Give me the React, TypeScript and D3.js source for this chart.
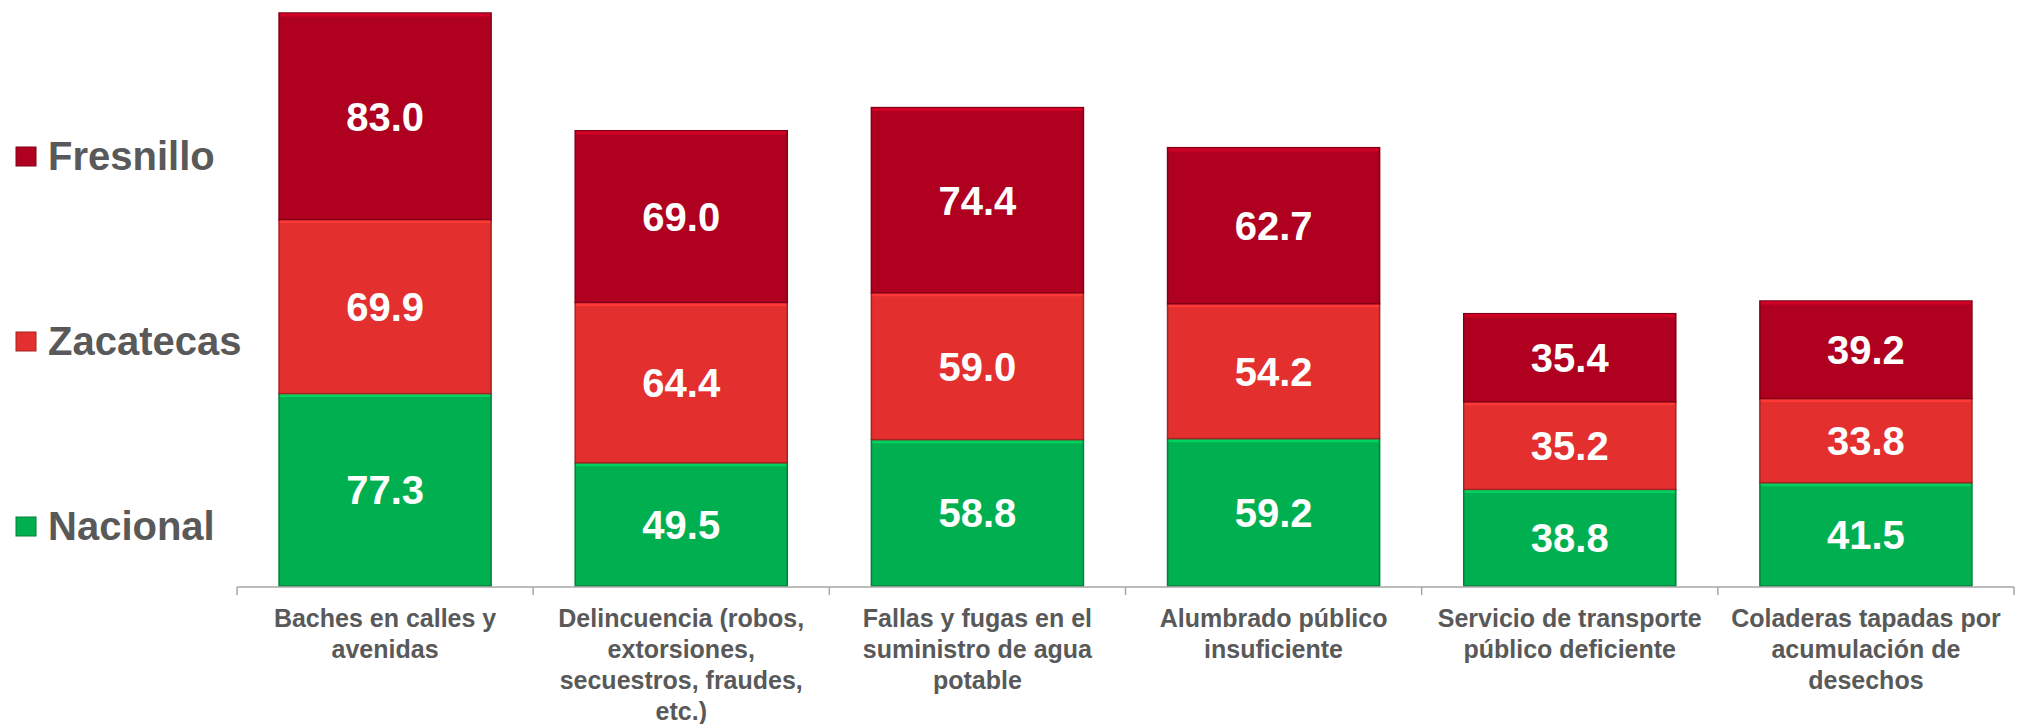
import React from 'react';
import * as d3 from 'd3';

const categories = [
  'Baches en calles y avenidas',
  'Delincuencia (robos, extorsiones, secuestros, fraudes, etc.)',
  'Fallas y fugas en el suministro de agua potable',
  'Alumbrado público insuficiente',
  'Servicio de transporte público deficiente',
  'Coladeras tapadas por acumulación de desechos',
];
const labelLines = [
  ['Baches en calles y', 'avenidas'],
  ['Delincuencia (robos,', 'extorsiones,', 'secuestros, fraudes,', 'etc.)'],
  ['Fallas y fugas en el', 'suministro de agua', 'potable'],
  ['Alumbrado público', 'insuficiente'],
  ['Servicio de transporte', 'público deficiente'],
  ['Coladeras tapadas por', 'acumulación de', 'desechos'],
];
const series = ['Nacional', 'Zacatecas', 'Fresnillo'];
const nacional = [77.3, 49.5, 58.8, 59.2, 38.8, 41.5];
const zacatecas = [69.9, 64.4, 59.0, 54.2, 35.2, 33.8];
const fresnillo = [83.0, 69.0, 74.4, 62.7, 35.4, 39.2];

const colors: Record<string, string> = { Nacional: '#00b050', Zacatecas: '#e3302f', Fresnillo: '#b00020' };
const fontFam = '"Liberation Sans", Arial, sans-serif';

const W = 2018, H = 724;
const baseY = 586, topY = 13;

export default function App() {
  const rows = categories.map((c, i) => ({ cat: c, Nacional: nacional[i], Zacatecas: zacatecas[i], Fresnillo: fresnillo[i] }));
  const stacked = d3.stack<any>().keys(series)(rows);
  const maxTot = d3.max(rows, (r) => r.Nacional + r.Zacatecas + r.Fresnillo) as number;

  const x = d3.scaleBand().domain(categories).range([237, 2014]).paddingInner(0.284).paddingOuter(0.142);
  const y = d3.scaleLinear().domain([0, maxTot]).range([baseY, topY]);
  const step = x.step();
  const x0 = 237;

  const legendY: Record<string, number> = { Fresnillo: 156, Zacatecas: 341, Nacional: 526 };

  return (
    <svg width={W} height={H} style={{ position: 'absolute', left: 0, top: 0, background: '#fff' }}>
      <rect width={W} height={H} fill="#fff" />
      {stacked.map((s) => (
        <g key={s.key}>
          {s.map((d, i) => {
            const bx = x(categories[i]) as number;
            const bw = x.bandwidth();
            const y1 = y(d[1]), y2 = y(d[0]);
            const c = colors[s.key];
            const dark = d3.color(c)!.darker(0.9).toString();
            const light = d3.color(c)!.brighter(0.5).toString();
            return (
              <g key={i}>
                <rect x={bx} y={y1} width={bw} height={y2 - y1} fill={c} stroke={dark} strokeWidth={1.5} />
                <line x1={bx + 1} x2={bx + bw - 1} y1={y1 + 2} y2={y1 + 2} stroke={light} strokeWidth={3} />
                <text x={bx + bw / 2} y={(y1 + y2) / 2} dy="0.36em" textAnchor="middle" fill="#fff"
                  fontFamily={fontFam} fontWeight="bold" fontSize={40}>
                  {(d[1] - d[0]).toFixed(1)}
                </text>
              </g>
            );
          })}
        </g>
      ))}
      <line x1={x0} x2={2014} y1={baseY + 1} y2={baseY + 1} stroke="#a6a6a6" strokeWidth={1.5} />
      {d3.range(categories.length + 1).map((i) => (
        <line key={i} x1={x0 + i * step} x2={x0 + i * step} y1={baseY + 1} y2={baseY + 9} stroke="#a6a6a6" strokeWidth={1.5} />
      ))}
      {categories.map((c, i) => (
        <text key={c} x={(x(c) as number) + x.bandwidth() / 2} y={627} textAnchor="middle" fill="#595959"
          fontFamily={fontFam} fontWeight="bold" fontSize={25}>
          {labelLines[i].map((l, j) => (
            <tspan key={j} x={(x(c) as number) + x.bandwidth() / 2} dy={j === 0 ? 0 : 31}>{l}</tspan>
          ))}
        </text>
      ))}
      {series.map((s) => (
        <g key={s}>
          <rect x={16} y={legendY[s] - 9} width={20} height={19} fill={colors[s]} stroke={d3.color(colors[s])!.darker(0.9).toString()} strokeWidth={1} />
          <text x={48} y={legendY[s]} dy="0.36em" fill="#595959" fontFamily={fontFam} fontWeight="bold" fontSize={40}>{s}</text>
        </g>
      ))}
    </svg>
  );
}
